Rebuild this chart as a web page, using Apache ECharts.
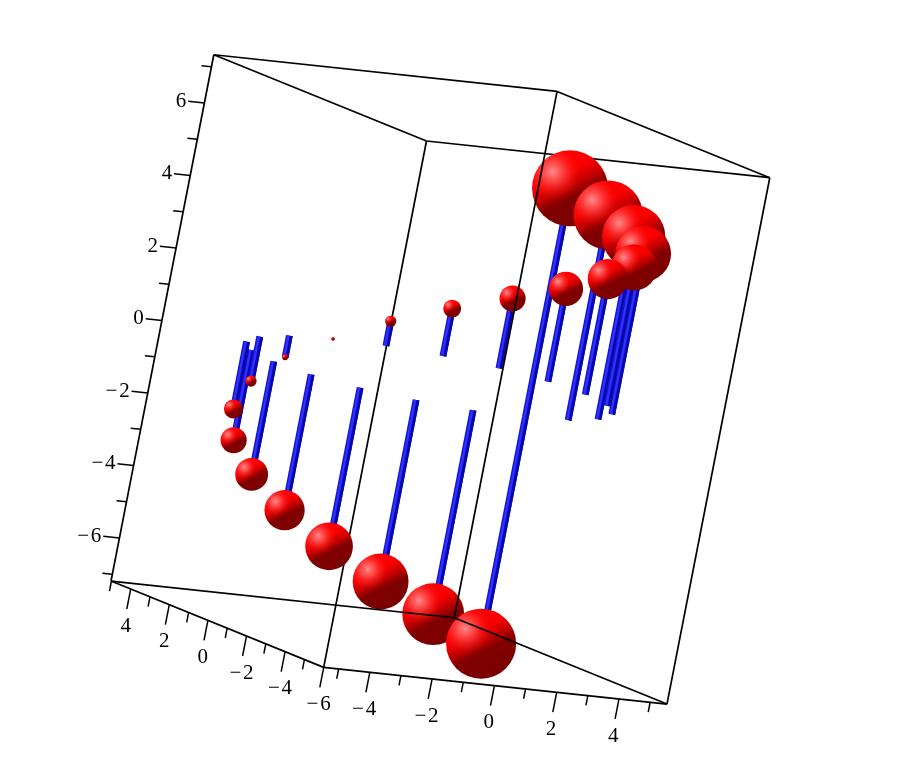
<!DOCTYPE html>
<html>
<head>
<meta charset="utf-8">
<style>html,body{margin:0;padding:0;background:#fff}#chart{width:901px;height:774px}</style>
<script src="https://cdn.jsdelivr.net/npm/echarts@6/dist/echarts.min.js"></script>
</head>
<body>
<div id="chart"></div>
<script>
// Data: ball position (x, y, z) and ball radius in the same data units.
const ballX = [-0.02, 1.5, 2.9, 4.03, 4.74, 5, 4.76, 4.05, 2.94, 1.55, 0, -1.55, -2.94, -4.05, -4.76, -5, -4.76, -4.05, -2.94, -1.55, -0.02];
const ballY = [-5, -4.76, -4.05, -2.94, -1.55, 0, 1.55, 2.94, 4.05, 4.76, 5, 4.76, 4.05, 2.94, 1.55, 0, -1.55, -2.94, -4.05, -4.76, -5];
const ballZ = [6.31, 5.66, 5.04, 4.43, 3.82, 3.19, 2.56, 1.93, 1.31, 0.68, 0, -0.6, -1.23, -1.86, -2.49, -3.12, -3.75, -4.38, -5.01, -5.63, -6.25];
const ballSize = [1.02, 0.93, 0.85, 0.75, 0.62, 0.54, 0.46, 0.35, 0.24, 0.15, 0.05, 0.08, 0.15, 0.255, 0.35, 0.44, 0.54, 0.64, 0.75, 0.83, 0.94];

const xMajor = [-4, -2, 0, 2, 4];
const xMinor = [-5, -3, -1, 1, 3, 5];
const yMajor = [4, 2, 0, -2, -4, -6];
const yMinor = [5, 3, 1, -1, -3, -5];
const zMajor = [6, 4, 2, 0, -2, -4, -6];
const zMinor = [7, 5, 3, 1, -1, -3, -5, -7];
const xRange = [-5.48, 5.54];
const yRange = [-6, 5.02];
const zRange = [-7.19, 7.33];

// Orthographic view of the 3-D box onto the 2-D axes of the plot.
const origin = [429.5, 378];
const ex = [31.15, 3.33], ey = [-19.3, -7.83], ez = [7.08, -36.25];
const unitPx = 37.25;
const project = (x, y, z) => [
  origin[0] + x * ex[0] + y * ey[0] + z * ez[0],
  origin[1] + x * ex[1] + y * ey[1] + z * ez[1]
];
const nearness = (x, y, z) => 755 * x + 1153 * y - 180 * z;

const seg = (a, b) => project(...a).concat(project(...b));
const [x0, x1] = xRange, [y0, y1] = yRange, [z0, z1] = zRange;

const backEdges = [
  [[x0,y1,z1],[x1,y1,z1]], [[x0,y1,z1],[x0,y0,z1]], [[x1,y1,z1],[x1,y0,z1]], [[x0,y0,z1],[x1,y0,z1]],
  [[x0,y1,z0],[x0,y1,z1]], [[x0,y0,z0],[x0,y0,z1]], [[x1,y0,z0],[x1,y0,z1]],
  [[x0,y1,z0],[x0,y0,z0]], [[x0,y0,z0],[x1,y0,z0]]
].map(e => seg(e[0], e[1]));
const frontEdges = [
  [[x1,y1,z0],[x1,y1,z1]], [[x0,y1,z0],[x1,y1,z0]], [[x1,y1,z0],[x1,y0,z0]]
].map(e => seg(e[0], e[1]));

const ticks = [];
const majorLen = 0.55, minorLen = 0.27, zMajorLen = 0.52, zMinorLen = 0.32;
xMajor.forEach(v => ticks.push(seg([v,y0,z0],[v,y0,z0-majorLen])));
xMinor.forEach(v => ticks.push(seg([v,y0,z0],[v,y0,z0-minorLen])));
yMajor.forEach(v => ticks.push(seg([x0,v,z0],[x0,v,z0-majorLen])));
yMinor.forEach(v => ticks.push(seg([x0,v,z0],[x0,v,z0-minorLen])));
zMajor.forEach(v => ticks.push(seg([x0,y1,v],[x0-zMajorLen,y1,v])));
zMinor.forEach(v => ticks.push(seg([x0,y1,v],[x0-zMinorLen,y1,v])));

const labelText = v => (v < 0 ? '\u2212' + '\u200a' + Math.abs(v) : String(v));
const labels = [];
xMajor.forEach(v => { const p = project(v + 0.05, y0, z0 - 1.02); labels.push([p[0], p[1], labelText(v), 'center']); });
yMajor.forEach(v => { const p = project(x0 + 0.07, v, z0 - 1.02); labels.push([p[0], p[1], labelText(v), 'center']); });
zMajor.forEach(v => { const p = project(x0 - 0.58, y1, v); labels.push([p[0], p[1], labelText(v), 'right']); });

const order = ballX.map((_, i) => i);
const stems = order
  .map(i => ({ i, n: nearness(ballX[i], ballY[i], ballZ[i] / 2) }))
  .sort((a, b) => a.n - b.n)
  .map(o => project(ballX[o.i], ballY[o.i], 0).concat(project(ballX[o.i], ballY[o.i], ballZ[o.i])));
const balls = order
  .map(i => ({ i, n: nearness(ballX[i], ballY[i], ballZ[i]) }))
  .sort((a, b) => a.n - b.n)
  .map(o => project(ballX[o.i], ballY[o.i], ballZ[o.i]).concat([ballSize[o.i] * unitPx]));

const sphereBody = () => new echarts.graphic.LinearGradient(0.28, 0.06, 0.72, 0.94, [
  { offset: 0, color: '#ff0000' },
  { offset: 0.3, color: '#f80000' },
  { offset: 0.48, color: '#c00000' },
  { offset: 0.62, color: '#800000' },
  { offset: 1, color: '#7c0000' }
]);
const sphereGlow = () => new echarts.graphic.RadialGradient(0.27, 0.28, 0.38, [
  { offset: 0, color: 'rgba(255,140,140,1)' },
  { offset: 0.35, color: 'rgba(255,90,90,0.75)' },
  { offset: 1, color: 'rgba(255,0,0,0)' }
]);

function lineRender(width) {
  return function (params, api) {
    const a = api.coord([api.value(0), api.value(1)]);
    const b = api.coord([api.value(2), api.value(3)]);
    return {
      type: 'line',
      shape: { x1: a[0], y1: a[1], x2: b[0], y2: b[1] },
      style: { stroke: '#000', lineWidth: width, fill: null }
    };
  };
}
function stemRender(params, api) {
  const a = api.coord([api.value(0), api.value(1)]);
  const b = api.coord([api.value(2), api.value(3)]);
  const dx = b[0] - a[0], dy = b[1] - a[1], len = Math.hypot(dx, dy) || 1;
  const nx = Math.abs(dy) / len, ny = (dy > 0 ? -dx : dx) / len;
  const strip = (off, w, col) => ({
    type: 'line',
    shape: { x1: a[0] + nx * off, y1: a[1] + ny * off, x2: b[0] + nx * off, y2: b[1] + ny * off },
    style: { stroke: col, lineWidth: w, fill: null }
  });
  return {
    type: 'group',
    children: [
      strip(0, 6.8, '#1414d4'),
      strip(2.1, 2.6, '#0808a4'),
      strip(-0.9, 2.2, '#3030ff')
    ]
  };
}
function ballRender(params, api) {
  const c = api.coord([api.value(0), api.value(1)]);
  const r = api.value(2);
  return {
    type: 'group',
    children: [
      { type: 'circle', shape: { cx: c[0], cy: c[1], r: r }, style: { fill: sphereBody() } },
      { type: 'circle', shape: { cx: c[0], cy: c[1], r: r }, style: { fill: sphereGlow() } }
    ]
  };
}
function labelRender(params, api) {
  const c = api.coord([api.value(0), api.value(1)]);
  const row = labels[params.dataIndex];
  return {
    type: 'text',
    x: c[0], y: c[1],
    style: {
      text: row[2],
      align: row[3],
      verticalAlign: 'middle',
      fill: '#000',
      font: '21px "Liberation Serif", serif'
    }
  };
}

const chart = echarts.init(document.getElementById('chart'), null, { renderer: 'canvas' });
chart.setOption({
  animation: false,
  backgroundColor: '#fff',
  grid: { left: 0, right: 0, top: 0, bottom: 0 },
  xAxis: { type: 'value', min: 0, max: 901, show: false },
  yAxis: { type: 'value', min: 0, max: 774, inverse: true, show: false },
  series: [
    { type: 'custom', name: 'box back', clip: false, renderItem: lineRender(1.7), data: backEdges, z: 1 },
    { type: 'custom', name: 'ticks', clip: false, renderItem: lineRender(1.5), data: ticks, z: 1 },
    { type: 'custom', name: 'stems', clip: false, renderItem: stemRender, data: stems, z: 2 },
    { type: 'custom', name: 'balls', clip: false, renderItem: ballRender, data: balls, z: 3 },
    { type: 'custom', name: 'box front', clip: false, renderItem: lineRender(1.7), data: frontEdges, z: 4 },
    { type: 'custom', name: 'tick labels', clip: false, renderItem: labelRender, data: labels.map(r => [r[0], r[1]]), z: 5 }
  ]
});
</script>
</body>
</html>
